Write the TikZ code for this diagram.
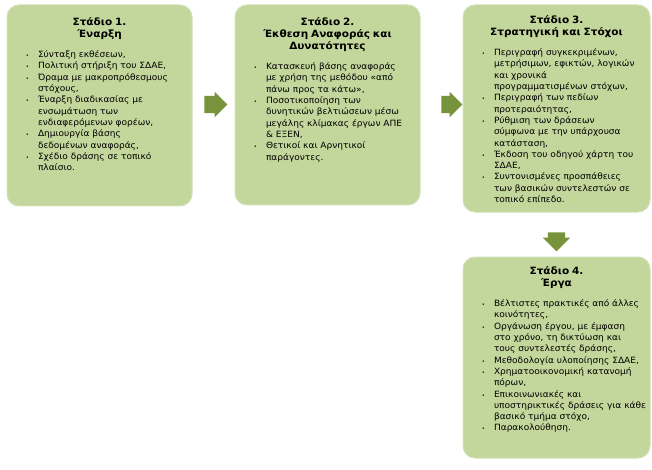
\documentclass[tikz,border=0pt]{standalone}
\usepackage{fontspec}
\setmainfont{DejaVu Sans}[FakeStretch=1.05]
\usepackage{enumitem}
\usetikzlibrary{shapes.arrows}

\definecolor{boxgreen}{HTML}{C3D69B}
\definecolor{boxline}{HTML}{D3E1B6}
\definecolor{arrowgreen}{HTML}{77933C}

\newcommand{\stagetitle}[1]{{\centering\fontsize{10}{12}\selectfont\bfseries #1\par}}
\newenvironment{stagelist}{\begin{itemize}[leftmargin=17pt,labelsep=9pt,rightmargin=-28pt,itemsep=0pt,parsep=0pt,topsep=8.7pt,partopsep=0pt,label={\tiny\textbullet}]}{\end{itemize}}

\begin{document}
\begin{tikzpicture}[x=1pt,y=-1pt,
    stagebox/.style={draw=boxline,line width=1pt,fill=boxgreen,rounded corners=12pt,inner sep=0pt},
    stagetext/.style={anchor=north,inner sep=0pt,align=left,text=black,font=\fontsize{8.6}{11.3}\selectfont\raggedright},
    blockarrow/.style={single arrow,fill=arrowgreen,draw=none,inner xsep=0pt,inner ysep=8.5pt,single arrow head indent=0pt}]
    \useasboundingbox (0,0) rectangle (652,470);

    \node (stage1)[stagebox,minimum width=185pt,minimum height=201pt] at (99.5,105.5) {};
    \node (stage2)[stagebox,minimum width=185pt,minimum height=200pt] at (327.5,105) {};
    \node (stage3)[stagebox,minimum width=187pt,minimum height=207pt] at (556.5,108.5) {};
    \node (stage4)[stagebox,minimum width=187pt,minimum height=201pt] at (556.5,357.5) {};

    \node (text1)[stagetext,text width=157pt] at ([yshift=-13pt]stage1.north) {%
        \stagetitle{Στάδιο 1.\\Έναρξη}
        \begin{stagelist}
        \item Σύνταξη εκθέσεων,
        \item Πολιτική στήριξη του ΣΔΑΕ,
        \item Όραμα με μακροπρόθεσμους\\στόχους,
        \item Έναρξη διαδικασίας με\\ενσωμάτωση των\\ενδιαφερόμενων φορέων,
        \item Δημιουργία βάσης\\δεδομένων αναφοράς,
        \item Σχέδιο δράσης σε τοπικό\\πλαίσιο.
        \end{stagelist}};
    \node (text2)[stagetext,text width=157pt] at ([yshift=-13pt]stage2.north) {%
        \stagetitle{Στάδιο 2.\\Έκθεση Αναφοράς και\\Δυνατότητες}
        \begin{stagelist}
        \item Κατασκευή βάσης αναφοράς\\με χρήση της μεθόδου «από\\πάνω προς τα κάτω»,
        \item Ποσοτικοποίηση των\\δυνητικών βελτιώσεων μέσω\\μεγάλης κλίμακας έργων ΑΠΕ\\\& ΕΞΕΝ,
        \item Θετικοί και Αρνητικοί\\παράγοντες.
        \end{stagelist}};
    \node (text3)[stagetext,text width=159pt] at ([yshift=-11pt]stage3.north) {%
        \stagetitle{Στάδιο 3.\\Στρατηγική και Στόχοι}
        \begin{stagelist}
        \item Περιγραφή συγκεκριμένων,\\μετρήσιμων, εφικτών, λογικών\\και χρονικά\\προγραμματισμένων στόχων,
        \item Περιγραφή των πεδίων\\προτεραιότητας,
        \item Ρύθμιση των δράσεων\\σύμφωνα με την υπάρχουσα\\κατάσταση,
        \item Έκδοση του οδηγού χάρτη του\\ΣΔΑΕ,
        \item Συντονισμένες προσπάθειες\\των βασικών συντελεστών σε\\τοπικό επίπεδο.
        \end{stagelist}};
    \node (text4)[stagetext,text width=159pt] at ([yshift=-10pt]stage4.north) {%
        \stagetitle{Στάδιο 4.\\Έργα}
        \begin{stagelist}
        \item Βέλτιστες πρακτικές από άλλες\\κοινότητες,
        \item Οργάνωση έργου, με έμφαση\\στο χρόνο, τη δικτύωση και\\τους συντελεστές δράσης,
        \item Μεθοδολογία υλοποίησης ΣΔΑΕ,
        \item Χρηματοοικονομική κατανομή\\πόρων,
        \item Επικοινωνιακές και\\υποστηρικτικές δράσεις για κάθε\\βασικό τμήμα στόχο,
        \item Παρακολούθηση.
        \end{stagelist}};

    \node (arrow12)[blockarrow,minimum width=25pt,minimum height=23pt,single arrow head extend=4pt] at (211.5,104.5) {};
    \node (arrow23)[blockarrow,minimum width=25pt,minimum height=21pt,single arrow head extend=4pt] at (447.5,104.5) {};
    \node (arrow34)[blockarrow,minimum width=27pt,minimum height=19pt,single arrow head extend=5pt,rotate=-90] at (556.5,237.5) {};
\end{tikzpicture}
\end{document}
